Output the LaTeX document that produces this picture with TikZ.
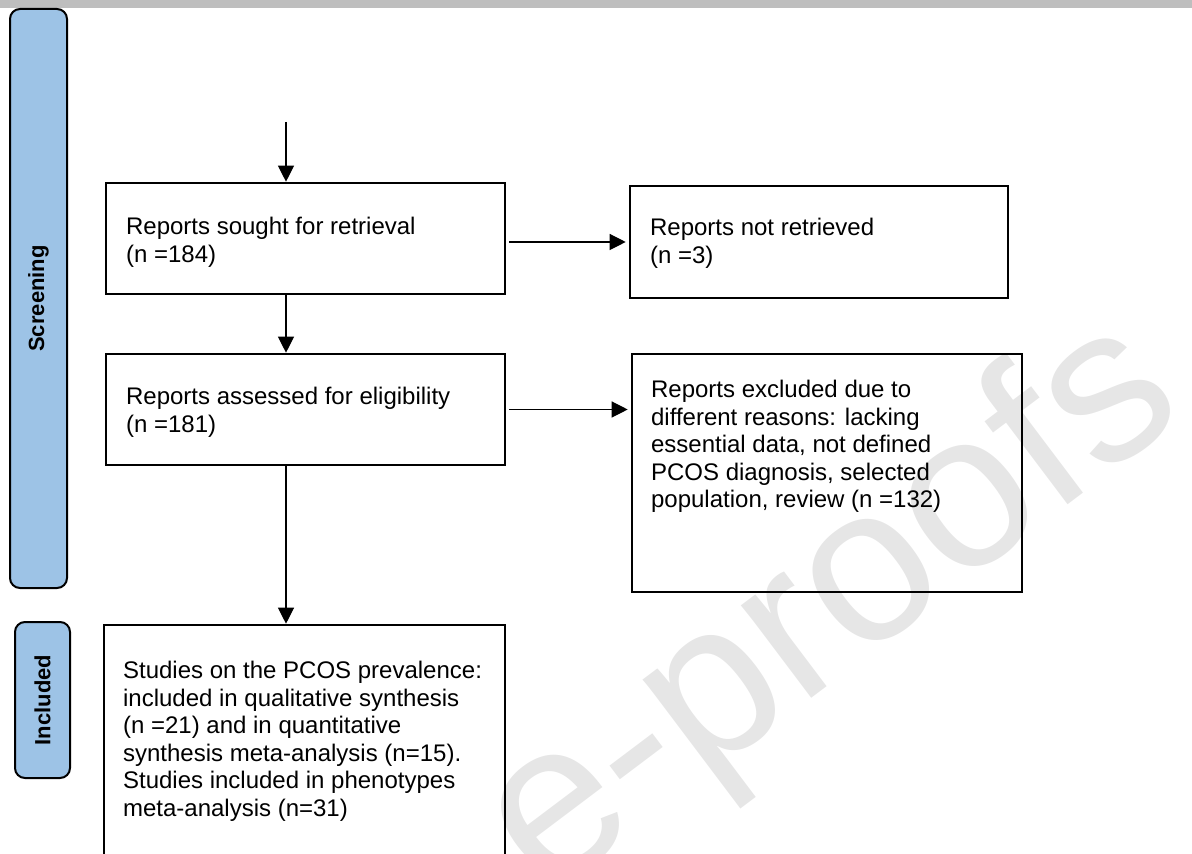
\documentclass[tikz,border=0pt]{standalone}
\usepackage{fontspec}
\setmainfont{Liberation Sans}
\usetikzlibrary{arrows.meta,positioning,calc}
\definecolor{Band}{HTML}{9DC3E6}
\definecolor{Header}{HTML}{BEBEBE}
\definecolor{Mark}{HTML}{E6E6E6}

\begin{document}
\begin{tikzpicture}[x=0.5pt,y=-0.5pt,
  box/.style={draw=black,line width=1.3pt,inner sep=0pt},
  boxtext/.style={font=\fontsize{12}{13.8}\selectfont,align=left,inner sep=0pt,anchor=north west},
  band/.style={draw=black,line width=1pt,fill=Band,rounded corners=5pt,rotate=90,
    font=\fontsize{11}{13}\selectfont\bfseries},
  arr/.style={-{Triangle[length=8pt,width=8pt]},line width=0.6pt}]
\useasboundingbox (0,0) rectangle (1192,854);
\clip (0,0) rectangle (1192,854);
% watermark and header strip
\node[font=\fontsize{110}{110}\selectfont,text=Mark,rotate=37,anchor=base east,inner sep=0pt] (mark) at (1190,413) {e-proofs};
\fill[Header] (0,0) rectangle (1192,8);
% phase bands
\node[band,minimum width=289.5pt,minimum height=28.5pt] (screen) at (38.5,298.5) {Screening};
\node[band,minimum width=78pt,minimum height=27.5pt] (incl) at (42.5,700) {Included};
% boxes
\coordinate (in) at (286,122);
\node[box,minimum width=199.5pt,minimum height=55.5pt] (sought) at (305.5,238.5) {};
\node[boxtext] (soughttxt) at ([shift={(21,35)}]sought.north west) {Reports sought for retrieval\\(n =184)};
\node[box,minimum width=189pt,minimum height=56pt] (notret) at (819,242) {};
\node[boxtext] (notrettxt) at ([shift={(21,33)}]notret.north west) {Reports not retrieved\\(n =3)};
\node[box,minimum width=199.5pt,minimum height=55.5pt] (assessed) at (305.5,409.5) {};
\node[boxtext] (assessedtxt) at ([shift={(21,34)}]assessed.north west) {Reports assessed for eligibility\\(n =181)};
\node[box,minimum width=195pt,minimum height=119pt] (excl) at (827,473) {};
\node[boxtext] (excltxt) at ([shift={(20,27)}]excl.north west) {Reports excluded due to\\different reasons: lacking\\essential data, not defined\\PCOS diagnosis, selected\\population, review (n =132)};
\node[box,minimum width=200.5pt,minimum height=130pt] (studies) at (304.5,755) {};
\node[boxtext] (studtxt) at ([shift={(20,37)}]studies.north west) {Studies on the PCOS prevalence:\\included in qualitative synthesis\\(n =21) and in quantitative\\synthesis meta-analysis (n=15).\\Studies included in phenotypes\\meta-analysis (n=31)};
% arrows
\draw[arr] (in) -- (in |- sought.north);
\draw[arr] ([xshift=1.5pt]sought.east |- notret.west) -- ([xshift=-1.5pt]notret.west);
\draw[arr] (in |- sought.south) -- (in |- assessed.north);
\draw[arr] ([xshift=1.5pt]assessed.east) -- ([xshift=-1.5pt]assessed.east -| excl.west);
\draw[arr] (in |- assessed.south) -- (in |- studies.north);
\end{tikzpicture}
\end{document}
